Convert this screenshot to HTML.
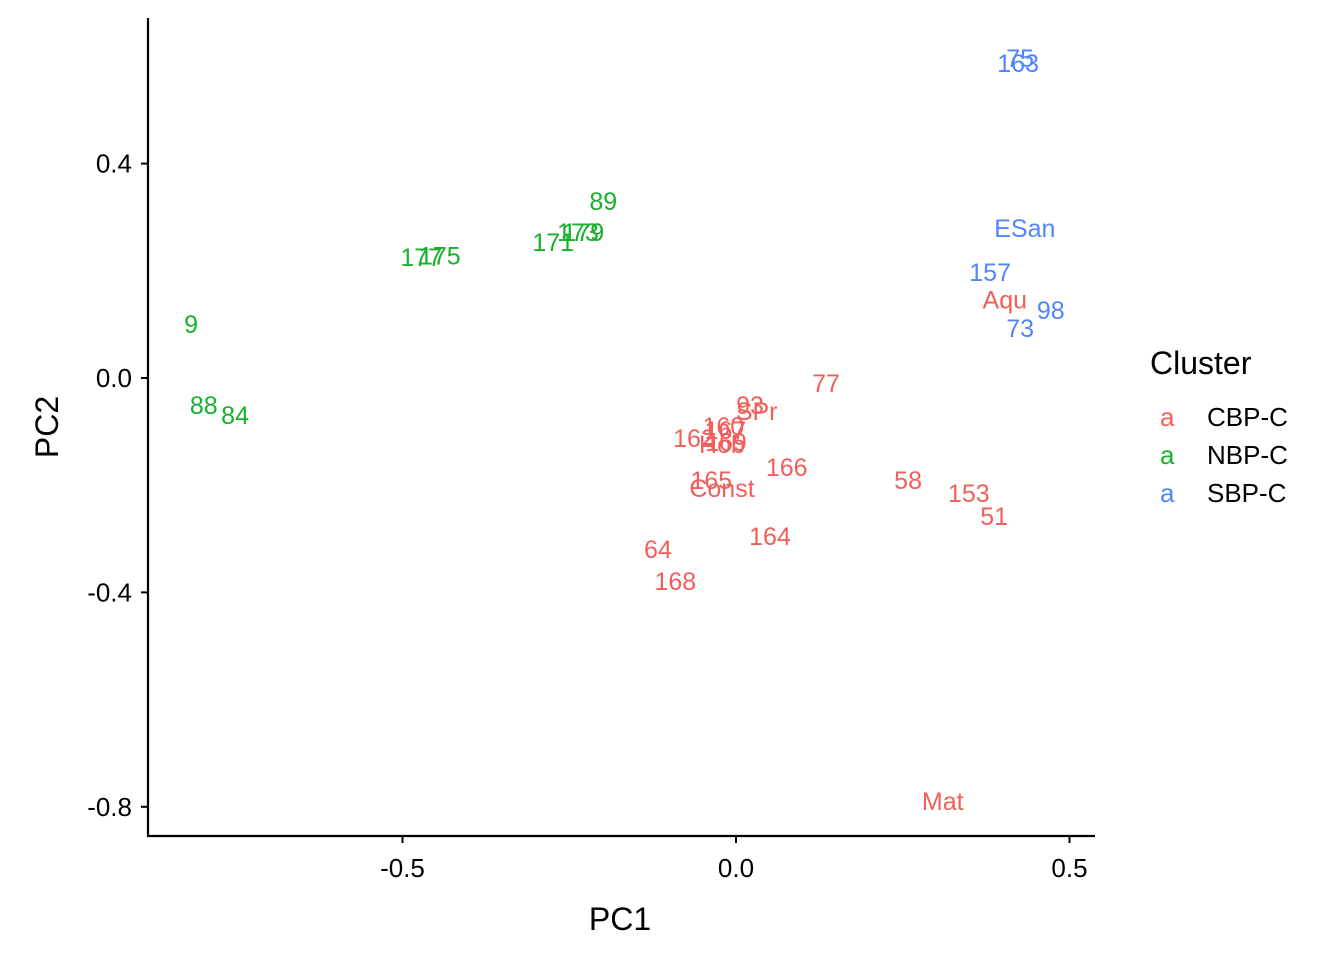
<!DOCTYPE html>
<html><head><meta charset="utf-8"><style>
body{margin:0;background:#fff}
svg{display:block;font-family:"Liberation Sans",Arial,sans-serif}
</style></head><body>
<svg id="chart" width="1344" height="960">
<g id="axes"></g>
<g id="pts"></g>
<text x="620" y="930" font-size="32" text-anchor="middle">PC1</text>
<text transform="translate(58,427) rotate(-90)" font-size="32" text-anchor="middle">PC2</text>
<g>
<text x="1150" y="374" font-size="32">Cluster</text>
<g><text x="1160" y="426" font-size="26" fill="#F35E5A">a</text><text x="1207" y="426" font-size="26">CBP-C</text></g>
<g><text x="1160" y="464" font-size="26" fill="#17B12B">a</text><text x="1207" y="464" font-size="26">NBP-C</text></g>
<g><text x="1160" y="502" font-size="26" fill="#5085FF">a</text><text x="1207" y="502" font-size="26">SBP-C</text></g>
</g>
</svg>
<script>
const labels=["163","75","ESan","157","98","73","89","179","173","171","177","175","9","88","84","Aqu","77","93","SPr","160","167","162","Hob","169","166","165","Const","58","153","51","164","64","168","Mat"];
const pc1=[0.423,0.426,0.433,0.381,0.472,0.426,-0.199,-0.229,-0.237,-0.274,-0.472,-0.444,-0.817,-0.798,-0.751,0.403,0.135,0.021,0.031,-0.019,-0.016,-0.063,-0.021,-0.015,0.076,-0.037,-0.021,0.258,0.349,0.387,0.051,-0.117,-0.091,0.310];
const pc2=[0.588,0.597,0.280,0.198,0.127,0.093,0.330,0.272,0.272,0.254,0.226,0.229,0.101,-0.050,-0.069,0.146,-0.009,-0.050,-0.062,-0.090,-0.097,-0.112,-0.123,-0.119,-0.166,-0.190,-0.205,-0.190,-0.215,-0.257,-0.295,-0.319,-0.379,-0.789];
const cluster=["SBP-C","SBP-C","SBP-C","SBP-C","SBP-C","SBP-C","NBP-C","NBP-C","NBP-C","NBP-C","NBP-C","NBP-C","NBP-C","NBP-C","NBP-C","CBP-C","CBP-C","CBP-C","CBP-C","CBP-C","CBP-C","CBP-C","CBP-C","CBP-C","CBP-C","CBP-C","CBP-C","CBP-C","CBP-C","CBP-C","CBP-C","CBP-C","CBP-C","CBP-C"];
const xTicks=[-0.5,0,0.5], xTickLabels=["-0.5","0.0","0.5"];
const yTicks=[0.4,0,-0.4,-0.8], yTickLabels=["0.4","0.0","-0.4","-0.8"];
const colors={"CBP-C":"#F35E5A","NBP-C":"#17B12B","SBP-C":"#5085FF"};
const X=v=>736+v*667, Y=v=>378-v*536;
const NS="http://www.w3.org/2000/svg";
const ax=document.getElementById('axes'), pts=document.getElementById('pts');
function mk(tag,at,parent){const e=document.createElementNS(NS,tag);for(const k in at)e.setAttribute(k,at[k]);parent.appendChild(e);return e;}
let l=mk('line',{x1:148,y1:18,x2:148,y2:837,stroke:'#000','stroke-width':2.2},ax);


l=mk('line',{x1:147,y1:836,x2:1095,y2:836,stroke:'#000','stroke-width':2.2},ax);


xTicks.forEach((v,i)=>{mk('line',{x1:X(v),x2:X(v),y1:836,y2:843,stroke:'#000','stroke-width':2},ax);
const t=mk('text',{x:X(v),y:877,'font-size':26,'text-anchor':'middle'},ax);t.textContent=xTickLabels[i];

});
yTicks.forEach((v,i)=>{mk('line',{x1:141,x2:148,y1:Y(v),y2:Y(v),stroke:'#000','stroke-width':2},ax);
const t=mk('text',{x:132,y:Y(v)+9,'font-size':26,'text-anchor':'end'},ax);t.textContent=yTickLabels[i];

});
labels.forEach((s,i)=>{const t=mk('text',{x:X(pc1[i]),y:Y(pc2[i])+9,'font-size':25,'text-anchor':'middle',fill:colors[cluster[i]]},pts);t.textContent=s;

});
</script>
</body></html>
